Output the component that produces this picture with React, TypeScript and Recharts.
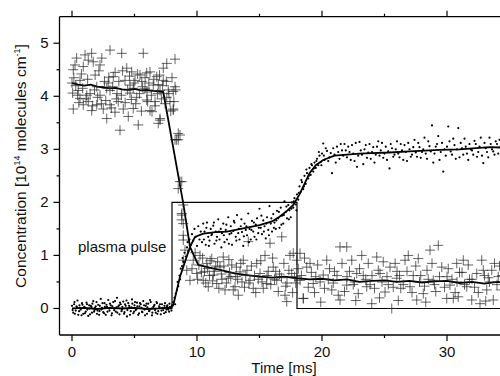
import { ComposedChart, Scatter, Line, XAxis, YAxis } from "recharts";

// crosses: the species that is destroyed by the pulse [time ms, conc]
const crossesBefore: [number, number][] = [
  [0.37, 4.72], [1.57, 4.81], [1.3, 4.68], [1.04, 4.78], [0.1, 4.5], [0.24, 4.59],
  [0.9, 4.56], [1.7, 4.65], [2.24, 4.59], [3.04, 4.87], [3.98, 4.81], [5.7, 4.81],
  [2.38, 4.72], [4.38, 4.53], [4.78, 4.46], [5.44, 4.4], [6.24, 4.46], [6.78, 4.37],
  [7.3, 4.53], [7.58, 4.62], [8.24, 4.7], [0.0, 4.25], [0.05, 4.06], [0.1, 3.76],
  [0.64, 3.96], [0.9, 3.84], [1.3, 3.9], [1.58, 3.73], [1.98, 3.84], [2.5, 3.76],
  [2.78, 3.58], [3.04, 4.11], [3.3, 4.37], [3.7, 3.9], [4.1, 3.76], [4.5, 3.62],
  [4.64, 4.06], [3.84, 3.36], [5.3, 3.46], [6.24, 3.73], [7.04, 3.55], [5.18, 3.98],
  [5.84, 4.15], [6.5, 4.21], [7.04, 4.11], [7.58, 3.98], [8.1, 4.09], [8.1, 3.76],
  [7.84, 3.9], [8.24, 4.18], [4.24, 4.3], [5.04, 4.3], [5.98, 4.44], [1.98, 4.18],
  [2.78, 4.15], [0.64, 4.3], [2.24, 4.02], [5.98, 3.93], [6.64, 3.9], [3.04, 3.84],
  [3.44, 3.7], [4.9, 3.77], [7.3, 4.3], [1.18, 4.02], [0.5, 4.11], [4.64, 4.21],
  [5.58, 4.28], [0.3, 4.2], [1.8, 4.12], [2.9, 4.25], [3.6, 4.05], [4.9, 4.15],
  [6.0, 4.08], [6.9, 4.22], [7.7, 4.12], [7.04, 3.58], [6.9, 3.49], [6.4, 3.71],
];

const crossesBefore2: [number, number][] = [
  [0.15, 4.35], [0.45, 4.02], [0.55, 3.88], [0.75, 4.42], [0.85, 4.15], [1.12, 3.95],
  [1.25, 4.32], [1.45, 4.05], [1.65, 3.82], [1.85, 4.4], [2.05, 3.98], [2.15, 4.48],
  [2.35, 3.86], [2.6, 4.28], [2.7, 3.92], [2.95, 4.36], [3.15, 3.78], [3.25, 4.18],
  [3.45, 4.45], [3.55, 3.95], [3.75, 4.28], [3.95, 4.02], [4.05, 4.48], [4.25, 3.88],
  [4.45, 4.12], [4.6, 4.38], [4.75, 3.94], [4.95, 4.25], [5.1, 3.86], [5.25, 4.42],
  [5.4, 4.05], [5.55, 3.72], [5.65, 4.18], [5.85, 4.35], [6.05, 3.9], [6.15, 4.25],
  [6.35, 4.02], [6.55, 4.32], [6.65, 3.82], [6.85, 4.05], [7.0, 4.4], [7.15, 3.95],
  [7.25, 4.2], [7.45, 3.86], [7.55, 4.28], [7.75, 4.05], [7.9, 3.72], [8.0, 4.35],
  [8.15, 3.9], [8.3, 4.12],
];

const crossesDrop: [number, number][] = [
  [8.64, 3.27], [8.37, 3.18], [8.5, 3.3], [8.64, 2.39], [8.1, 3.74], [8.24, 3.18],
  [8.5, 3.18], [8.78, 2.39], [8.5, 2.26], [8.9, 1.95], [8.78, 1.79], [8.78, 1.67],
  [8.9, 1.38], [8.78, 1.76], [8.9, 1.6], [8.9, 1.29], [9.04, 1.1], [8.9, 0.91],
  [9.18, 0.72], [9.44, 0.53], [9.7, 0.91],
];

const crossesAfter: [number, number][] = [
  [9.98, 0.66], [10.24, 1.0], [10.5, 0.53], [10.78, 0.85], [10.9, 0.41], [11.18, 0.94],
  [11.3, 0.63], [11.58, 0.47], [11.84, 0.78], [12.1, 0.97], [12.24, 0.35], [12.5, 0.57],
  [12.78, 0.82], [13.04, 0.41], [13.3, 0.25], [13.44, 0.69], [13.7, 0.91], [14.1, 1.26],
  [14.24, 0.53], [14.5, 0.38], [14.78, 0.85], [15.04, 0.66], [15.44, 1.0], [15.84, 1.23],
  [15.58, 0.47], [16.1, 0.78], [16.38, 0.53], [16.78, 1.35], [17.04, 0.25], [17.18, 0.13],
  [17.44, 1.0], [17.58, 0.66], [17.98, 0.91], [18.24, 0.53], [18.5, 0.19], [18.78, 0.78],
  [17.7, 1.04], [18.24, 1.04], [19.04, 0.85], [18.5, 0.19], [19.3, 0.47], [20.1, 0.63],
  [20.38, 0.91], [20.78, 0.35], [21.44, 1.16], [21.98, 1.16], [21.44, 0.16], [21.98, 0.44],
  [22.38, 0.91], [22.78, 0.66], [23.18, 1.0], [23.58, 0.41], [23.98, 0.09], [24.38, 0.97],
  [24.64, 0.66], [25.04, 0.31], [25.44, 0.78], [25.58, 0.0], [25.98, 0.57], [26.64, 0.91],
  [26.9, 1.0], [27.04, 0.41], [27.58, 0.16], [27.7, 0.94], [28.1, 0.28], [28.64, 1.1],
  [29.3, 1.19], [28.9, 0.53], [29.58, 0.78], [29.98, 0.19], [30.24, 0.44], [30.5, 0.19],
  [30.78, 0.85], [31.3, 0.91], [31.58, 0.41], [31.98, 0.16], [32.38, 0.66], [32.78, 0.91],
  [32.64, 0.09], [33.18, 0.35], [33.58, 0.72], [33.7, 0.16], [34.1, 0.6],
  [19.5, 0.6], [20.5, 0.55], [21.0, 0.7], [22.0, 0.6], [22.5, 0.45], [23.0, 0.75],
  [23.5, 0.55], [24.0, 0.62], [24.8, 0.5], [25.3, 0.45], [26.0, 0.7], [26.3, 0.38],
  [27.3, 0.62], [27.8, 0.5], [28.4, 0.72], [29.0, 0.45], [30.0, 0.6], [30.8, 0.5],
  [31.2, 0.68], [31.8, 0.55], [32.2, 0.4], [33.0, 0.62], [33.4, 0.5], [34.0, 0.45],
  [34.2, 0.8], [10.6, 0.7], [11.0, 0.62], [11.5, 0.8], [12.0, 0.55], [12.6, 0.68],
  [13.1, 0.6], [13.6, 0.5], [14.0, 0.72], [14.6, 0.62], [15.2, 0.5], [15.7, 0.7],
  [16.2, 0.55], [16.6, 0.65], [17.2, 0.48], [17.8, 0.6],
];

const crossesAfter2: [number, number][] = [
  [9.6, 0.75], [9.85, 1.05], [10.05, 0.55], [10.15, 0.82], [10.35, 0.68], [10.45, 0.95],
  [10.7, 0.48], [10.85, 0.75], [11.05, 0.9], [11.25, 0.52], [11.4, 0.7], [11.65, 0.88],
  [11.75, 0.38], [11.95, 0.65], [12.15, 0.8], [12.35, 0.48], [12.55, 0.92], [12.7, 0.6],
  [12.9, 0.35], [13.15, 0.78], [13.25, 0.55], [13.5, 0.85], [13.8, 0.4], [13.9, 0.62],
  [14.15, 0.48], [14.35, 0.8], [14.7, 0.3], [14.9, 0.55], [15.1, 0.9], [15.3, 0.38],
  [15.6, 0.62], [15.9, 0.45], [16.05, 0.95], [16.3, 0.7], [16.5, 0.32], [16.75, 0.58],
  [16.95, 0.85], [17.1, 0.42], [17.35, 0.72], [17.65, 0.3], [17.9, 0.48], [18.1, 0.75],
  [18.35, 0.62], [18.6, 0.95], [18.9, 0.4], [19.15, 0.68], [19.4, 0.3], [19.65, 0.82],
  [19.85, 0.5], [20.2, 0.38], [20.6, 0.75], [20.9, 0.48], [21.2, 0.62], [21.6, 0.85],
  [21.8, 0.32], [22.2, 0.7], [22.6, 0.5], [22.9, 0.28], [23.3, 0.62], [23.7, 0.85],
  [23.85, 0.45], [24.2, 0.38], [24.5, 0.72], [24.9, 0.88], [25.2, 0.6], [25.7, 0.4],
  [25.85, 0.85], [26.2, 0.62], [26.5, 0.45], [26.8, 0.7], [27.2, 0.3], [27.5, 0.8],
  [27.9, 0.62], [28.2, 0.42], [28.5, 0.55], [28.8, 0.85], [29.1, 0.32], [29.4, 0.6],
  [29.8, 0.4], [30.1, 0.75], [30.4, 0.55], [30.65, 0.3], [31.0, 0.68], [31.4, 0.45],
  [31.7, 0.82], [32.0, 0.55], [32.5, 0.3], [32.9, 0.72], [33.3, 0.58], [33.8, 0.85],
  [34.3, 0.35], [34.4, 0.62], [21.3, 0.25], [24.6, 0.2], [26.1, 0.15], [28.3, 0.12],
  [30.9, 0.22], [33.1, 0.14], [19.9, 0.12], [22.7, 0.15],
];

// dots: the species that is formed
const dotsBefore: [number, number][] = [
  [0.0, 0.05], [0.1, -0.08], [0.2, 0.12], [0.3, -0.04], [0.4, 0.02], [0.5, -0.12],
  [0.6, 0.06], [0.7, -0.02], [0.8, 0.1], [0.9, -0.1], [1.0, 0.03], [1.1, -0.06],
  [1.2, 0.08], [1.3, -0.14], [1.4, 0.0], [1.5, 0.05], [1.6, -0.08], [1.7, 0.14],
  [1.8, -0.03], [1.9, 0.04], [2.0, -0.1], [2.1, 0.07], [2.2, -0.05], [2.3, 0.18],
  [2.4, 0.01], [2.5, -0.07], [2.6, 0.1], [2.7, -0.12], [2.8, 0.03], [2.9, 0.16],
  [3.0, -0.04], [3.1, 0.06], [3.2, -0.09], [3.3, 0.12], [3.4, 0.0], [3.5, -0.06],
  [3.6, 0.2], [3.7, 0.04], [3.8, -0.11], [3.9, 0.08], [4.0, -0.02], [4.1, 0.13],
  [4.2, -0.07], [4.3, 0.05], [4.4, -0.15], [4.5, 0.1], [4.6, 0.02], [4.7, -0.05],
  [4.8, 0.17], [4.9, -0.09], [5.0, 0.06], [5.1, -0.03], [5.2, 0.11], [5.3, -0.12],
  [5.4, 0.04], [5.5, 0.08], [5.6, -0.06], [5.7, 0.14], [5.8, -0.02], [5.9, 0.05],
  [6.0, -0.1], [6.1, 0.09], [6.2, -0.04], [6.3, 0.12], [6.4, -0.13], [6.5, 0.03],
  [6.6, 0.07], [6.7, -0.08], [6.8, 0.1], [6.9, -0.05], [7.0, 0.02], [7.1, -0.11],
  [7.2, 0.08], [7.3, -0.03], [7.4, 0.05], [7.5, -0.07], [7.6, 0.04], [7.7, -0.02],
  [7.8, 0.09], [7.9, 0.0], [8.0, 0.06],
];

const dotsBefore2: [number, number][] = [
  [0.05, -0.03], [0.17, 0.08], [0.23, -0.1], [0.36, 0.04], [0.44, 0.15], [0.57, -0.05],
  [0.63, 0.01], [0.76, -0.13], [0.84, 0.07], [0.97, 0.02], [1.04, -0.09], [1.16, 0.11],
  [1.23, -0.02], [1.37, 0.06], [1.44, -0.11], [1.56, 0.03], [1.63, 0.09], [1.77, -0.06],
  [1.84, 0.01], [1.96, 0.12], [2.04, -0.04], [2.17, -0.12], [2.23, 0.05], [2.36, -0.02],
  [2.44, 0.1], [2.57, -0.09], [2.63, 0.03], [2.76, 0.07], [2.84, -0.06], [2.97, 0.0],
  [3.04, 0.09], [3.16, -0.13], [3.23, 0.04], [3.37, -0.03], [3.44, 0.14], [3.56, 0.02],
  [3.63, -0.08], [3.77, 0.06], [3.84, 0.11], [3.96, -0.05], [4.03, 0.03], [4.17, -0.1],
  [4.24, 0.08], [4.36, 0.15], [4.43, -0.03], [4.57, 0.05], [4.64, -0.12], [4.76, 0.02],
  [4.83, 0.09], [4.97, -0.06], [5.04, 0.12], [5.16, -0.01], [5.23, 0.04], [5.37, -0.09],
  [5.44, 0.1], [5.56, 0.01], [5.63, -0.07], [5.77, 0.06], [5.84, -0.13], [5.96, 0.09],
  [6.03, 0.02], [6.17, -0.05], [6.24, 0.16], [6.36, 0.0], [6.43, -0.08], [6.57, 0.05],
  [6.64, -0.03], [6.76, 0.12], [6.83, -0.1], [6.97, 0.04], [7.04, 0.08], [7.16, -0.04],
  [7.23, 0.01], [7.37, -0.09], [7.44, 0.1], [7.56, -0.02], [7.63, 0.06], [7.77, -0.06],
  [7.84, 0.03], [7.96, -0.04],
];

const dotsRise: [number, number][] = [
  [8.1, 0.12], [8.2, 0.2], [8.25, 0.08], [8.3, 0.28], [8.4, 0.35], [8.45, 0.5],
  [8.5, 0.42], [8.6, 0.62], [8.65, 0.55], [8.7, 0.75], [8.8, 0.8], [8.85, 0.95],
  [8.9, 0.88], [9.0, 1.05], [9.1, 0.98], [9.2, 1.15], [9.25, 1.25], [9.3, 1.08],
  [9.4, 1.3], [9.5, 1.2], [9.6, 1.4], [9.7, 1.28], [9.8, 1.5], [9.9, 1.35],
  [10.0, 1.18], [10.1, 1.55], [10.2, 1.3], [10.3, 1.45], [10.4, 1.25], [10.5, 1.6],
];

const dotsPulse: [number, number][] = [
  [10.6, 1.45], [10.7, 1.2], [10.8, 1.62], [10.9, 1.35], [11.0, 1.28], [11.1, 1.5],
  [11.2, 1.4], [11.3, 1.56], [11.4, 1.22], [11.5, 1.45], [11.6, 1.35], [11.7, 1.68],
  [11.8, 1.3], [11.9, 1.5], [12.0, 1.42], [12.1, 1.6], [12.2, 1.25], [12.3, 1.48],
  [12.4, 1.3], [12.5, 1.72], [12.6, 1.4], [12.7, 1.55], [12.8, 1.2], [12.9, 1.46],
  [13.0, 1.62], [13.1, 1.35], [13.2, 1.76], [13.3, 1.42], [13.4, 1.3], [13.5, 1.55],
  [13.6, 1.44], [13.7, 1.18], [13.8, 1.6], [13.9, 1.48], [14.0, 1.38], [14.1, 1.79],
  [14.2, 1.5], [14.3, 1.3], [14.4, 1.65], [14.5, 1.45], [14.6, 1.35], [14.7, 1.58],
  [14.8, 1.7], [14.9, 1.42], [15.0, 1.88], [15.1, 1.52], [15.2, 1.4], [15.3, 1.66],
  [15.4, 1.55], [15.5, 1.32], [15.6, 1.72], [15.7, 1.48], [15.8, 1.93], [15.9, 1.6],
  [16.0, 1.45], [16.1, 1.78], [16.2, 1.62], [16.3, 1.5], [16.4, 1.84], [16.5, 1.7],
  [16.6, 1.52], [16.7, 1.9], [16.8, 1.75], [16.9, 1.6], [17.0, 2.02], [17.1, 1.82],
  [17.2, 1.7], [17.3, 1.95], [17.4, 1.85], [17.5, 1.72], [17.6, 2.0], [17.7, 1.9],
  [17.8, 2.08], [17.9, 1.96], [18.0, 2.15],
];

const dotsPulse2: [number, number][] = [
  [10.55, 1.3], [10.75, 1.52], [10.95, 1.18], [11.15, 1.38], [11.35, 1.62], [11.55, 1.28],
  [11.75, 1.45], [11.95, 1.15], [12.15, 1.38], [12.35, 1.58], [12.55, 1.22], [12.75, 1.42],
  [12.95, 1.65], [13.15, 1.28], [13.35, 1.5], [13.55, 1.68], [13.75, 1.36], [13.95, 1.55],
  [14.15, 1.25], [14.35, 1.48], [14.55, 1.62], [14.75, 1.3], [14.95, 1.52], [15.15, 1.75],
  [15.35, 1.45], [15.55, 1.6], [15.75, 1.38], [15.95, 1.7], [16.15, 1.52], [16.35, 1.66],
  [16.55, 1.82], [16.75, 1.58], [16.95, 1.76], [17.15, 1.92], [17.35, 1.68], [17.55, 1.88],
  [17.75, 2.02], [17.95, 1.85],
];

const dotsAfter: [number, number][] = [
  [18.1, 2.05], [18.2, 2.3], [18.3, 2.2], [18.4, 2.38], [18.5, 2.25], [18.6, 2.5],
  [18.7, 2.35], [18.8, 2.55], [18.9, 2.45], [19.0, 2.65], [19.1, 2.52], [19.2, 2.7],
  [19.3, 2.58], [19.4, 2.75], [19.5, 2.65], [19.6, 2.82], [19.7, 2.7], [19.8, 2.88],
  [19.9, 2.76], [20.0, 2.92], [20.1, 3.11], [20.2, 2.8], [20.4, 2.97], [20.6, 2.85],
  [20.8, 2.55], [20.9, 3.02], [21.0, 2.9], [21.2, 3.05], [21.4, 2.82], [21.6, 2.98],
  [21.8, 3.1], [22.0, 2.85], [22.2, 2.95], [22.4, 3.08], [22.6, 2.78], [22.8, 2.67],
  [23.0, 3.14], [23.2, 2.9], [23.4, 3.0], [23.6, 2.84], [23.8, 3.1], [24.0, 2.95],
  [24.2, 2.75], [24.4, 3.05], [24.6, 2.88], [24.8, 3.12], [25.0, 2.92], [25.2, 2.8],
  [25.4, 2.64], [25.6, 3.02], [25.8, 2.9], [26.0, 3.15], [26.2, 2.85], [26.4, 2.98],
  [26.6, 3.08], [26.8, 2.78], [27.0, 3.0], [27.2, 2.9], [27.4, 3.18], [27.6, 2.86],
  [27.8, 3.04], [28.0, 2.95], [28.2, 3.22], [28.4, 2.82], [28.6, 3.06], [28.8, 3.45],
  [29.0, 2.92], [29.2, 3.1], [29.4, 2.8], [29.7, 2.58], [29.8, 3.0], [30.1, 3.43],
  [30.2, 3.15], [30.4, 2.9], [30.6, 3.08], [30.9, 3.4], [31.0, 2.85], [31.2, 3.02],
  [31.4, 3.2], [31.6, 2.92], [31.8, 3.1], [32.0, 2.98], [32.2, 3.16], [32.4, 2.86],
  [32.6, 3.05], [32.9, 2.74], [33.0, 3.12], [33.2, 2.95], [33.4, 3.22], [33.6, 3.0],
  [33.8, 2.9], [34.0, 3.1], [34.2, 3.18], [34.4, 2.96],
];

const dotsAfter2: [number, number][] = [
  [18.15, 2.18], [18.35, 2.42], [18.55, 2.3], [18.75, 2.62], [18.95, 2.5], [19.15, 2.72],
  [19.35, 2.64], [19.55, 2.78], [19.75, 2.95], [19.95, 2.7], [20.15, 2.88], [20.3, 3.02],
  [20.5, 2.78], [20.7, 2.93], [21.1, 2.75], [21.3, 2.95], [21.5, 3.1], [21.7, 2.88],
  [21.9, 2.98], [22.1, 3.05], [22.3, 2.8], [22.5, 2.92], [22.7, 3.12], [22.9, 2.88],
  [23.1, 2.98], [23.3, 2.72], [23.5, 3.08], [23.7, 2.94], [23.9, 2.82], [24.1, 3.04],
  [24.3, 2.9], [24.5, 3.15], [24.7, 2.98], [24.9, 2.84], [25.1, 3.05], [25.3, 2.96],
  [25.5, 3.1], [25.7, 2.86], [25.9, 3.0], [26.1, 2.92], [26.3, 3.1], [26.5, 2.8],
  [26.7, 2.95], [26.9, 3.12], [27.1, 2.86], [27.3, 3.04], [27.5, 2.94], [27.7, 3.12],
  [27.9, 2.84], [28.1, 3.0], [28.3, 2.92], [28.5, 3.15], [28.7, 2.96], [28.9, 2.75],
  [29.1, 3.05], [29.3, 3.25], [29.5, 2.95], [29.6, 3.12], [29.9, 2.88], [30.0, 3.05],
  [30.3, 2.96], [30.5, 3.2], [30.7, 2.82], [30.8, 3.0], [31.1, 3.12], [31.3, 2.9],
  [31.5, 3.05], [31.7, 2.8], [31.9, 3.0], [32.1, 2.9], [32.3, 3.1], [32.5, 2.95],
  [32.7, 3.22], [32.8, 2.88], [33.1, 3.02], [33.3, 2.85], [33.5, 3.1], [33.7, 2.96],
  [33.9, 3.15], [34.1, 2.92], [34.3, 3.05],
];

// smoothed curves
const crossFit: [number, number][] = [
  [0, 4.25], [0.5, 4.22], [1, 4.2], [1.5, 4.22], [2, 4.18], [2.5, 4.17], [3, 4.15],
  [3.5, 4.16], [4, 4.13], [4.5, 4.12], [5, 4.14], [5.5, 4.11], [6, 4.12], [6.5, 4.1],
  [7, 4.09], [7.3, 4.08], [8.9, 1.98], [9.44, 1.16], [10.1, 0.82], [11, 0.77],
  [12, 0.72], [13, 0.66], [14, 0.63], [15, 0.6], [16, 0.58], [17, 0.6], [18, 0.57],
  [19, 0.55], [20, 0.56], [21, 0.53], [22, 0.55], [23, 0.5], [24, 0.52], [25, 0.53],
  [26, 0.5], [27, 0.52], [28, 0.49], [29, 0.51], [30, 0.52], [31, 0.48], [32, 0.5],
  [33, 0.47], [34, 0.5], [35, 0.49],
];

const dotFit: [number, number][] = [
  [0, 0], [1, 0.01], [2, -0.01], [3, 0.01], [4, 0], [5, 0.01], [6, -0.01], [7, 0],
  [7.9, 0.02], [8.1, 0.06], [8.64, 0.6], [9.44, 1.16], [9.84, 1.35], [10.5, 1.41],
  [11.5, 1.44], [12.4, 1.45], [13.5, 1.5], [15, 1.57], [16, 1.64], [16.6, 1.73],
  [17.2, 1.84], [17.7, 1.95], [18.2, 2.15], [18.6, 2.35], [19, 2.55], [19.5, 2.7],
  [20.1, 2.8], [21, 2.88], [22, 2.9], [23, 2.92], [24, 2.93], [25.4, 2.94], [27, 2.96],
  [29.4, 2.99], [31, 3.0], [33.4, 3.04], [35, 3.03],
];

const pulse: [number, number][] = [
  [0, 0], [8, 0], [8, 2], [18, 2], [18, 0], [35, 0],
];

const xTicks = [0, 5, 10, 15, 20, 25, 30, 35];
const yTicks = [0, 0.5, 1, 1.5, 2, 2.5, 3, 3.5, 4, 4.5, 5];

const toPts = (arr: [number, number][]) => arr.map(([t, v]) => ({ t, v }));

const crossData = toPts([...crossesBefore, ...crossesBefore2, ...crossesDrop, ...crossesAfter, ...crossesAfter2]);
const dotData = toPts([
  ...dotsBefore, ...dotsBefore2, ...dotsRise, ...dotsPulse, ...dotsPulse2, ...dotsAfter, ...dotsAfter2,
]);

const FONT = "Liberation Sans, Arial, sans-serif";

const CrossMark = (p: any) => (
  <path
    d={`M${p.cx - 5},${p.cy}h10M${p.cx},${p.cy - 5}v10`}
    stroke="#222"
    strokeOpacity={0.7}
    strokeWidth={1}
    fill="none"
  />
);

const DotMark = (p: any) => <circle cx={p.cx} cy={p.cy} r={1.1} fill="#000" />;

const BottomTick = (p: any) => {
  const major = p.payload.value % 10 === 0;
  return (
    <g>
      <line x1={p.x} y1={p.y} x2={p.x} y2={p.y + (major ? 6 : 3)} stroke="#000" strokeWidth={1.2} />
      {major && (
        <text x={p.x} y={p.y + 22} textAnchor="middle" fontSize={15} fontFamily={FONT} fill="#111">
          {p.payload.value}
        </text>
      )}
    </g>
  );
};

const TopTick = (p: any) => {
  const major = p.payload.value % 10 === 0;
  return <line x1={p.x} y1={p.y} x2={p.x} y2={p.y - (major ? 6 : 3)} stroke="#000" strokeWidth={1.2} />;
};

const LeftTick = (p: any) => {
  const major = Number.isInteger(p.payload.value);
  return (
    <g>
      <line x1={p.x} y1={p.y} x2={p.x - (major ? 6 : 3)} y2={p.y} stroke="#000" strokeWidth={1.2} />
      {major && (
        <text x={p.x - 11} y={p.y + 5} textAnchor="end" fontSize={15} fontFamily={FONT} fill="#111">
          {p.payload.value}
        </text>
      )}
    </g>
  );
};

export default function App() {
  return (
    <div
      style={{
        position: "fixed",
        left: 0,
        top: 0,
        width: 500,
        height: 376,
        overflow: "hidden",
        background: "#fff",
      }}
    >
      <ComposedChart
        width={520}
        height={376}
        margin={{ top: 6.7, right: 10.5, left: 19.5, bottom: 11 }}
      >
        <XAxis
          xAxisId="top"
          orientation="top"
          type="number"
          dataKey="t"
          domain={[-1, 35]}
          allowDataOverflow
          ticks={xTicks}
          interval={0}
          tickSize={0}
          tickMargin={0}
          tick={<TopTick />}
          height={10}
          axisLine={{ stroke: "#000", strokeWidth: 1.3 }}
        />
        <XAxis
          type="number"
          dataKey="t"
          domain={[-1, 35]}
          allowDataOverflow
          ticks={xTicks}
          interval={0}
          tickSize={0}
          tickMargin={0}
          tick={<BottomTick />}
          height={30}
          axisLine={{ stroke: "#000", strokeWidth: 1.3 }}
        />
        <YAxis
          type="number"
          dataKey="v"
          domain={[-0.5, 5.5]}
          allowDataOverflow
          ticks={yTicks}
          interval={0}
          tickSize={0}
          tickMargin={0}
          tick={<LeftTick />}
          width={40}
          axisLine={{ stroke: "#000", strokeWidth: 1.3 }}
        />
        <Scatter data={crossData} dataKey="v" shape={<CrossMark />} isAnimationActive={false} />
        <Scatter data={dotData} dataKey="v" shape={<DotMark />} isAnimationActive={false} />
        <Line
          data={toPts(pulse)}
          dataKey="v"
          type="linear"
          stroke="#000"
          strokeWidth={1.2}
          dot={false}
          isAnimationActive={false}
        />
        <Line
          data={toPts(crossFit)}
          dataKey="v"
          type="linear"
          stroke="#000"
          strokeWidth={1.8}
          dot={false}
          isAnimationActive={false}
        />
        <Line
          data={toPts(dotFit)}
          dataKey="v"
          type="linear"
          stroke="#000"
          strokeWidth={1.8}
          dot={false}
          isAnimationActive={false}
        />
      </ComposedChart>
      <svg
        width={500}
        height={376}
        style={{ position: "absolute", left: 0, top: 0, pointerEvents: "none" }}
        fontFamily={FONT}
      >
        <text x={78} y={252} fontSize={15} fill="#111">plasma pulse</text>
        <text x={284} y={373} fontSize={15} fill="#111" textAnchor="middle">Time [ms]</text>
        <text
          transform="translate(26,166) rotate(-90)"
          textAnchor="middle"
          fontSize={15.5}
          fill="#111"
        >
          Concentration [10
          <tspan fontSize={9} dy={-6}>14</tspan>
          <tspan dy={6}> molecules cm</tspan>
          <tspan fontSize={9} dy={-6}>-1</tspan>
          <tspan dy={6}>]</tspan>
        </text>
      </svg>
    </div>
  );
}
